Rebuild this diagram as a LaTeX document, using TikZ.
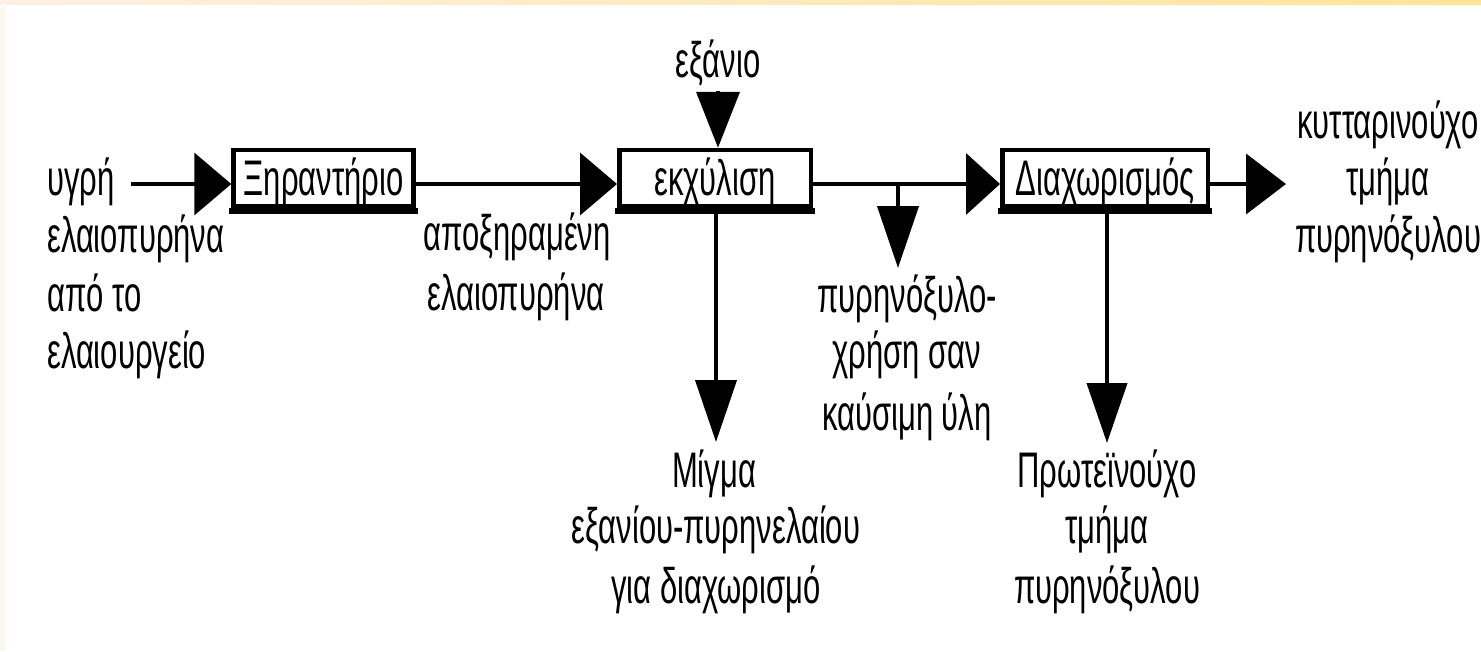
\documentclass[tikz,border=0pt]{standalone}
\usepackage{fontspec}
\newfontfamily\narrowfont[FakeStretch=0.62]{Liberation Sans}
\usetikzlibrary{arrows.meta}
\definecolor{stripL}{RGB}{253,240,228}
\definecolor{stripR}{RGB}{255,228,150}
\definecolor{stripSide}{RGB}{253,247,241}
\tikzset{
  lbl/.style={font=\narrowfont\fontsize{50}{57}\selectfont, inner sep=0pt, anchor=base},
  procbox/.style={draw, line width=4.5pt, inner sep=0pt, minimum height=56pt,
    font=\narrowfont\fontsize{50}{57}\selectfont, text height=38pt, text depth=4pt},
  flow/.style={line width=4pt},
  harr/.style={flow, -{Triangle[length=37pt,width=62pt]}},
  varr/.style={flow, -{Triangle[length=62pt,width=41pt]}}
}
\begin{document}
\begin{tikzpicture}[x=1pt,y=-1pt]
\useasboundingbox (0,0) rectangle (1481,651);
\fill[white] (0,0) rectangle (1481,651);
\shade[left color=stripL, right color=stripR] (0,0) rectangle (1481,4);
\fill[stripSide] (0,4) rectangle (6,651);

% process boxes
\node[procbox, minimum width=180pt] (dry) at (323.5,178) {Ξηραντήριο};
\node[procbox, minimum width=191.5pt] (ext) at (715,178) {εκχύλιση};
\node[procbox, minimum width=205.5pt] (sep) at (1105,178) {Διαχωρισμός};
\foreach \b in {dry,ext,sep}
  \fill ([xshift=-2.25pt]\b.south west) rectangle ([xshift=2.25pt,yshift=-6pt]\b.south east);

% labels
\node[lbl, anchor=base west] (in1) at (47,195) {υγρή};
\node[lbl, anchor=base west] (in2) at (47,252) {ελαιοπυρήνα};
\node[lbl, anchor=base west] (in3) at (47,311) {από το};
\node[lbl, anchor=base west] (in4) at (47,368) {ελαιουργείο};

\node[lbl] (dr1) at (517,250) {αποξηραμένη};
\node[lbl] (dr2) at (516,310) {ελαιοπυρήνα};

\node[lbl] (hex) at (718,77) {εξάνιο};

\node[lbl] (mx1) at (714,487) {Μίγμα};
\node[lbl] (mx2) at (716,543) {εξανίου-πυρηνελαίου};
\node[lbl] (mx3) at (716,603) {για διαχωρισμό};

\node[lbl] (fu1) at (907,312) {πυρηνόξυλο-};
\node[lbl] (fu2) at (907,368) {χρήση σαν};
\node[lbl] (fu3) at (907,430) {καύσιμη ύλη};

\node[lbl] (pr1) at (1107,487) {Πρωτεϊνούχο};
\node[lbl] (pr2) at (1107,543) {τμήμα};
\node[lbl] (pr3) at (1107,603) {πυρηνόξυλου};

\node[lbl] (ce1) at (1388,138) {κυτταρινούχο};
\node[lbl] (ce2) at (1388,195) {τμήμα};
\node[lbl] (ce3) at (1388,252) {πυρηνόξυλου};

% connector end points
\coordinate (start) at (131,184);
\coordinate (junc) at (898,184);
\coordinate (fuel) at (898,268);
\coordinate (mixtip) at (716,442);
\coordinate (prottip) at (1107,443);
\coordinate (celltip) at (1286,184);
\coordinate (hexstart) at (718,91);

% connectors
\draw[harr] (start) -- (dry.west |- start);
\draw[harr] (dry.east |- start) -- (ext.west |- start);
\draw[flow, -{Triangle[length=34pt,width=61pt]}] (ext.east |- start) -- (sep.west |- start);
\draw[flow, -{Triangle[length=40pt,width=60pt]}] (sep.east |- start) -- (celltip);
\draw[flow, -{Triangle[length=56pt,width=43pt]}] (hexstart) -- (hexstart |- ext.north);
\draw[varr] (mixtip |- ext.south) -- (mixtip);
\draw[varr] (junc) -- (fuel);
\draw[flow, -{Triangle[length=60pt,width=40pt]}] (prottip |- sep.south) -- (prottip);
\end{tikzpicture}
\end{document}
